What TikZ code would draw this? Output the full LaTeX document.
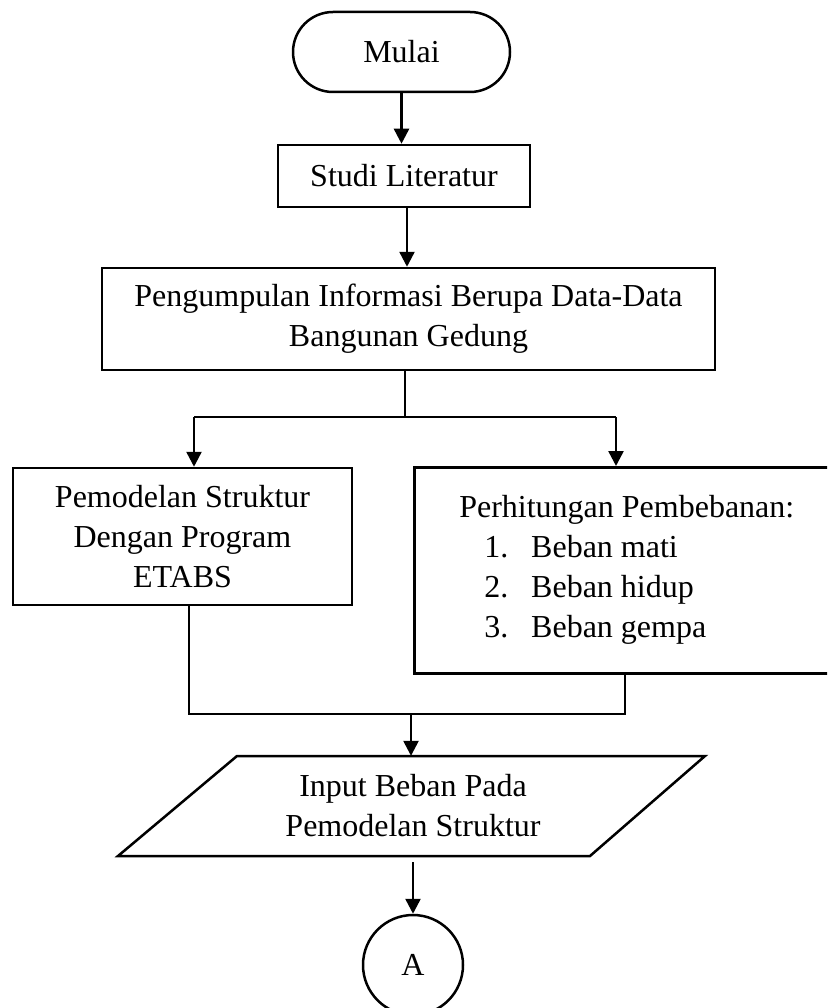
\documentclass[tikz,border=0pt]{standalone}
\usepackage{fontspec}
\setmainfont{Liberation Serif}
\usetikzlibrary{arrows.meta,shapes.misc}

\begin{document}
\begin{tikzpicture}[x=1pt,y=-1pt,
  every node/.style={font=\fontsize{32}{40}\selectfont},
  line/.style={line width=2.5pt, line join=miter},
  flowbox/.style={draw, line width=2.5pt, inner sep=0pt, align=center},
  arr/.style={line, -{Triangle[width=15pt,length=15pt]}},
]
\clip (0,0) rectangle (827,1008);

% start terminator and process boxes
\node[flowbox, rounded rectangle, minimum width=217pt, minimum height=80pt] (mulai) at (401.5,52) {Mulai};
\node[flowbox, minimum width=252pt, minimum height=62pt] (studi) at (404,176) {Studi Literatur};
\node[flowbox, minimum width=613pt, minimum height=102pt] (info) at (408.5,319)
  {Pengumpulan Informasi Berupa Data-Data\\Bangunan Gedung};
\node[flowbox, minimum width=339pt, minimum height=137pt] (model) at (182.5,536.5)
  {Pemodelan Struktur\\Dengan Program\\ETABS};
\node[flowbox, anchor=north west, minimum width=440pt, minimum height=206pt,
      text width=350pt, align=flush left, inner xsep=45pt] (beban) at (413,466)
  {Perhitungan Pembebanan:\\
   \hspace*{25pt}\makebox[47pt][l]{1.}Beban mati\\
   \hspace*{25pt}\makebox[47pt][l]{2.}Beban hidup\\
   \hspace*{25pt}\makebox[47pt][l]{3.}Beban gempa};

% input / output parallelogram
\node[inner sep=0pt, minimum width=470pt, minimum height=100pt, align=center] (input) at (413,806)
  {Input Beban Pada\\Pemodelan Struktur};
\draw[line] (237,756) -- (705,756) -- (590,856) -- (118,856) -- cycle;

% off-page connector
\node[flowbox, circle, minimum size=100pt] (conA) at (413,965) {A};

% junction points
\coordinate (split) at (405,417);
\coordinate (sl) at (194,417);
\coordinate (sr) at (616,417);
\coordinate (ml) at (189,714);
\coordinate (mr) at (625,714);
\coordinate (mm) at (411,714);

% connectors
\draw[arr] (mulai.south) -- (mulai.south |- studi.north);
\draw[arr] ([xshift=3pt]studi.south) -- ([xshift=3pt]studi.south |- info.north);
\draw[line] (split |- info.south) -- (split);
\draw[line] (sl) -- (sr);
\draw[arr] (sl) -- (sl |- model.north);
\draw[arr] (sr) -- (sr |- beban.north);
\draw[line] (ml |- model.south) -- (ml) -- (mr) -- (mr |- beban.south);
\draw[arr] (mm) -- (mm |- input.north);
\draw[arr, shorten <=6pt] (input.south) -- (conA.north);
\end{tikzpicture}
\end{document}
